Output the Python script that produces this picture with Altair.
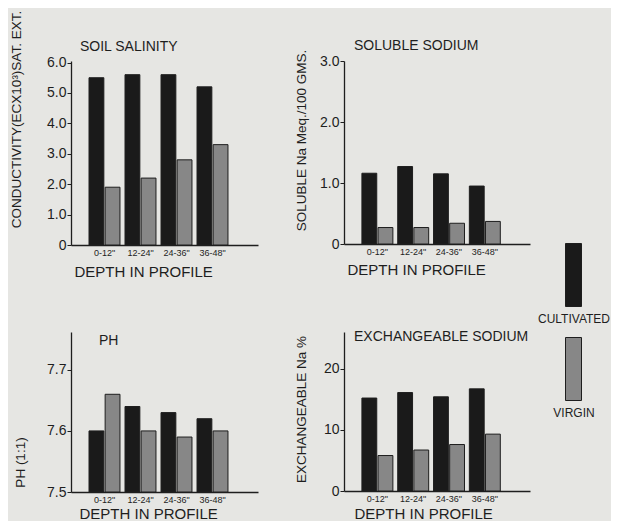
import altair as alt
import pandas as pd

depths = ['0-12"', '12-24"', '24-36"', '36-48"']
series = ["CULTIVATED", "VIRGIN"]

salinity_cult = [5.5, 5.6, 5.6, 5.2]
salinity_virgin = [1.9, 2.2, 2.8, 3.3]
solna_cult = [1.16, 1.27, 1.15, 0.95]
solna_virgin = [0.27, 0.27, 0.34, 0.37]
ph_cult = [7.60, 7.64, 7.63, 7.62]
ph_virgin = [7.66, 7.60, 7.59, 7.60]
exna_cult = [15.2, 16.1, 15.4, 16.7]
exna_virgin = [5.8, 6.7, 7.6, 9.3]

FONT = "Liberation Sans"
INK = "#1e1e1e"
BG = "#e6e6e3"
FILLS = ["#1a1a1a", "#878787"]


def frame(c, v):
    rows = []
    for d, a, b in zip(depths, c, v):
        rows.append({"depth": d, "series": series[0], "value": a})
        rows.append({"depth": d, "series": series[1], "value": b})
    return pd.DataFrame(rows)


key = alt.Legend(
    title=None, orient="none", legendX=482, legendY=247, direction="vertical",
    symbolType="M0.2,-7.5H1.8V-1.2H0.2Z", symbolSize=400,
    symbolStrokeColor=INK, symbolStrokeWidth=1, symbolOpacity=1,
    labelAlign="center", labelBaseline="middle", labelOffset=0,
    labelFontSize=12, labelFont=FONT, labelColor=INK, labelLimit=200,
    rowPadding=10, padding=0,
)


def panel(df, title, ytitle, domain, ticks, lexpr, w, h,
          ytx, yty, xty, xtx, tdx, toff):
    bars = alt.Chart(df).mark_bar(stroke=INK, strokeWidth=1).encode(
        x=alt.X("depth:N", sort=depths,
                scale=alt.Scale(paddingInner=0.14, paddingOuter=0.667, align=0.375),
                axis=alt.Axis(title="DEPTH IN PROFILE", labelAngle=0, labelFontSize=9,
                              labelFont=FONT, labelColor=INK, labelPadding=3,
                              tickSize=0, domainColor=INK, domainWidth=1.3,
                              titleX=xtx, titleY=xty, titleAlign="left",
                              titleBaseline="middle", titleFontSize=15,
                              titleFontWeight="normal", titleFont=FONT,
                              titleColor=INK)),
        xOffset=alt.XOffset("series:N", sort=series,
                            scale=alt.Scale(paddingInner=0.08)),
        y=alt.Y("value:Q",
                scale=alt.Scale(domain=domain, nice=False, zero=False),
                axis=alt.Axis(values=ticks, labelExpr=lexpr, title=ytitle,
                              labelFontSize=14, labelFont=FONT, labelColor=INK,
                              labelPadding=1, tickSize=4, tickColor=INK,
                              domainColor=INK, domainWidth=1.3, grid=False,
                              titleX=ytx, titleY=yty, titleAlign="center",
                              titleBaseline="middle", titleAngle=270,
                              titleFontSize=13.5, titleFontWeight="normal",
                              titleFont=FONT, titleColor=INK)),
        y2=alt.datum(domain[0]),
        color=alt.Color("series:N", scale=alt.Scale(domain=series, range=FILLS),
                        legend=key),
    )
    return bars.properties(
        width=w, height=h,
        title=alt.TitleParams(text=title, anchor="start", frame="group", dx=tdx,
                              offset=toff, baseline="middle", fontSize=14,
                              fontWeight="normal", font=FONT, color=INK),
    )


p1 = panel(frame(salinity_cult, salinity_virgin), "SOIL SALINITY",
           "CONDUCTIVITY(ECX10³)SAT. EXT.", [0, 6.05], [0, 1, 2, 3, 4, 5, 6],
           "datum.value == 0 ? '0' : format(datum.value, '.1f')", 187, 184,
           -55, 58, 26, 3, 9, -51)
p2 = panel(frame(solna_cult, solna_virgin), "SOLUBLE SODIUM",
           "SOLUBLE Na Meq./100 GMS.", [0, 3.0], [0, 1, 2, 3],
           "datum.value == 0 ? '0' : format(datum.value, '.1f')", 186, 183,
           -43, 79, 25, 3, 10, -11)
p3 = panel(frame(ph_cult, ph_virgin), "PH",
           "PH (1:1)", [7.5, 7.762], [7.5, 7.6, 7.7],
           "format(datum.value, '.1f')", 187, 160,
           -51, 130, 21, 8, 28, -23)
p4 = panel(frame(exna_cult, exna_virgin), "EXCHANGEABLE SODIUM",
           "EXCHANGEABLE Na %", [0, 26], [0, 10, 20],
           "format(datum.value, 'd')", 186, 159,
           -43, 77, 22, 10, 10, -19)

chart = alt.concat(p1, p2, p3, p4, columns=2, bounds="flush", align="each",
                   spacing={"row": 87, "column": 86}).properties(
    padding={"left": 0, "top": 2, "right": 0, "bottom": 0},
    background=BG,
).configure_view(stroke=None)

chart.save("out.html", embed_options={"renderer": "svg", "actions": False})
